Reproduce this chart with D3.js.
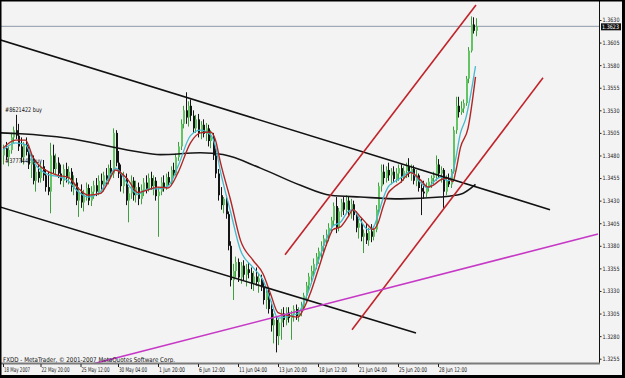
<!DOCTYPE html>
<html>
<head>
<meta charset="utf-8">
<script src="https://cdn.jsdelivr.net/npm/d3@7"></script>
<style>
  html, body { margin: 0; padding: 0; background: #f3f3f3; }
  svg { display: block; }
  text { font-family: "DejaVu Sans", Arial, sans-serif; }
  .narrow { font-family: "Liberation Sans Narrow", "DejaVu Sans Condensed", Arial, sans-serif; }
</style>
</head>
<body>
<svg id="chart" width="625" height="378"></svg>
<script>
// ── EURUSD H4 (FXDD MetaTrader) ─────────────────────────────────────────────
// one bar every 4 hours, 18 May 2007 .. 29 Jun 2007; prices

const opens = [
  1.3480,1.3488,1.3478,1.3486,1.3500,1.3508,1.3502,1.3490,1.3478,1.3492,
  1.3484,1.3470,1.3476,1.3452,1.3462,1.3455,1.3468,1.3458,1.3445,1.3440,
  1.3480,1.3465,1.3472,1.3460,1.3452,1.3465,1.3455,1.3462,1.3445,1.3450,
  1.3430,1.3440,1.3428,1.3436,1.3444,1.3430,1.3440,1.3447,1.3440,1.3452,
  1.3448,1.3458,1.3452,1.3466,1.3460,1.3505,1.3472,1.3460,1.3446,1.3455,
  1.3430,1.3438,1.3452,1.3436,1.3445,1.3432,1.3442,1.3450,1.3443,1.3455,
  1.3446,1.3452,1.3435,1.3440,1.3450,1.3445,1.3456,1.3450,1.3464,1.3460,
  1.3478,1.3490,1.3515,1.3530,1.3522,1.3535,1.3524,1.3510,1.3520,1.3505,
  1.3514,1.3504,1.3510,1.3496,1.3500,1.3480,1.3460,1.3436,1.3425,1.3432,
  1.3415,1.3380,1.3342,1.3352,1.3362,1.3345,1.3358,1.3348,1.3354,1.3350,
  1.3338,1.3346,1.3340,1.3344,1.3334,1.3320,1.3328,1.3310,1.3292,1.3298,
  1.3280,1.3295,1.3305,1.3298,1.3306,1.3300,1.3304,1.3310,1.3302,1.3308,
  1.3314,1.3325,1.3336,1.3346,1.3352,1.3360,1.3368,1.3374,1.3380,1.3388,
  1.3392,1.3400,1.3408,1.3424,1.3400,1.3418,1.3428,1.3420,1.3430,1.3418,
  1.3426,1.3414,1.3400,1.3405,1.3390,1.3394,1.3386,1.3396,1.3390,1.3398,
  1.3420,1.3446,1.3462,1.3455,1.3464,1.3458,1.3462,1.3454,1.3460,1.3466,
  1.3456,1.3463,1.3468,1.3460,1.3465,1.3452,1.3458,1.3444,1.3440,1.3438,
  1.3446,1.3451,1.3455,1.3458,1.3470,1.3460,1.3464,1.3440,1.3452,1.3448,
  1.3462,1.3508,1.3535,1.3528,1.3532,1.3538,1.3565,1.3596,1.3625,1.3618
];

const highs = [
  1.3492,1.3495,1.3490,1.3505,1.3512,1.3525,1.3515,1.3500,1.3495,1.3500,
  1.3490,1.3482,1.3480,1.3468,1.3470,1.3472,1.3475,1.3465,1.3462,1.3494,
  1.3492,1.3482,1.3478,1.3470,1.3470,1.3472,1.3468,1.3466,1.3458,1.3455,
  1.3445,1.3448,1.3442,1.3450,1.3448,1.3446,1.3452,1.3455,1.3458,1.3460,
  1.3462,1.3466,1.3470,1.3475,1.3510,1.3508,1.3485,1.3470,1.3462,1.3460,
  1.3445,1.3458,1.3456,1.3452,1.3450,1.3448,1.3455,1.3458,1.3460,1.3462,
  1.3458,1.3456,1.3445,1.3456,1.3458,1.3460,1.3462,1.3468,1.3472,1.3482,
  1.3495,1.3520,1.3535,1.3550,1.3540,1.3542,1.3530,1.3525,1.3526,1.3518,
  1.3520,1.3516,1.3514,1.3508,1.3505,1.3488,1.3465,1.3445,1.3434,1.3436,
  1.3418,1.3385,1.3360,1.3368,1.3366,1.3362,1.3364,1.3360,1.3362,1.3356,
  1.3352,1.3356,1.3350,1.3348,1.3342,1.3334,1.3332,1.3318,1.3305,1.3302,
  1.3300,1.3310,1.3312,1.3312,1.3312,1.3308,1.3314,1.3315,1.3312,1.3318,
  1.3328,1.3340,1.3350,1.3358,1.3366,1.3372,1.3378,1.3385,1.3392,1.3398,
  1.3405,1.3412,1.3428,1.3434,1.3422,1.3432,1.3434,1.3436,1.3434,1.3432,
  1.3430,1.3418,1.3410,1.3410,1.3398,1.3405,1.3400,1.3404,1.3402,1.3425,
  1.3450,1.3470,1.3470,1.3468,1.3472,1.3466,1.3468,1.3466,1.3470,1.3470,
  1.3468,1.3472,1.3477,1.3470,1.3469,1.3464,1.3460,1.3450,1.3452,1.3450,
  1.3455,1.3458,1.3462,1.3480,1.3476,1.3468,1.3466,1.3458,1.3460,1.3465,
  1.3512,1.3545,1.3545,1.3540,1.3542,1.3568,1.3600,1.3634,1.3633,1.3632
];

const lows = [
  1.3470,1.3475,1.3468,1.3482,1.3494,1.3498,1.3485,1.3472,1.3470,1.3480,
  1.3465,1.3455,1.3448,1.3440,1.3450,1.3450,1.3452,1.3440,1.3436,1.3416,
  1.3460,1.3458,1.3455,1.3448,1.3445,1.3450,1.3448,1.3440,1.3436,1.3425,
  1.3412,1.3422,1.3418,1.3430,1.3425,1.3424,1.3432,1.3435,1.3436,1.3442,
  1.3440,1.3448,1.3448,1.3455,1.3455,1.3468,1.3455,1.3440,1.3438,1.3425,
  1.3406,1.3432,1.3430,1.3428,1.3425,1.3426,1.3435,1.3438,1.3440,1.3442,
  1.3436,1.3430,1.3390,1.3436,1.3440,1.3442,1.3446,1.3448,1.3455,1.3458,
  1.3474,1.3486,1.3510,1.3515,1.3512,1.3518,1.3505,1.3505,1.3500,1.3498,
  1.3500,1.3496,1.3490,1.3488,1.3475,1.3455,1.3430,1.3420,1.3416,1.3410,
  1.3375,1.3335,1.3320,1.3345,1.3340,1.3338,1.3342,1.3335,1.3344,1.3332,
  1.3330,1.3336,1.3328,1.3330,1.3315,1.3310,1.3305,1.3285,1.3272,1.3262,
  1.3270,1.3276,1.3290,1.3292,1.3295,1.3276,1.3296,1.3298,1.3296,1.3302,
  1.3310,1.3318,1.3330,1.3338,1.3346,1.3354,1.3360,1.3366,1.3372,1.3380,
  1.3385,1.3394,1.3402,1.3394,1.3396,1.3412,1.3414,1.3415,1.3412,1.3410,
  1.3408,1.3395,1.3388,1.3385,1.3372,1.3382,1.3380,1.3384,1.3386,1.3395,
  1.3416,1.3440,1.3448,1.3450,1.3452,1.3448,1.3450,1.3450,1.3452,1.3450,
  1.3452,1.3455,1.3456,1.3452,1.3448,1.3446,1.3440,1.3414,1.3432,1.3434,
  1.3440,1.3444,1.3448,1.3452,1.3455,1.3450,1.3422,1.3436,1.3445,1.3444,
  1.3460,1.3504,1.3522,1.3525,1.3527,1.3535,1.3560,1.3594,1.3615,1.3612
];

const closes = [
  1.3488,1.3478,1.3486,1.3500,1.3508,1.3502,1.3490,1.3478,1.3492,1.3484,
  1.3470,1.3476,1.3452,1.3462,1.3455,1.3468,1.3458,1.3445,1.3440,1.3480,
  1.3465,1.3472,1.3460,1.3452,1.3465,1.3455,1.3462,1.3445,1.3450,1.3430,
  1.3440,1.3428,1.3436,1.3444,1.3430,1.3440,1.3447,1.3440,1.3452,1.3448,
  1.3458,1.3452,1.3466,1.3460,1.3505,1.3472,1.3460,1.3446,1.3455,1.3430,
  1.3438,1.3452,1.3436,1.3445,1.3432,1.3442,1.3450,1.3443,1.3455,1.3446,
  1.3452,1.3435,1.3440,1.3450,1.3445,1.3456,1.3450,1.3464,1.3460,1.3478,
  1.3490,1.3515,1.3530,1.3522,1.3535,1.3524,1.3510,1.3520,1.3505,1.3514,
  1.3504,1.3510,1.3496,1.3500,1.3480,1.3460,1.3436,1.3425,1.3432,1.3415,
  1.3380,1.3342,1.3352,1.3362,1.3345,1.3358,1.3348,1.3354,1.3350,1.3338,
  1.3346,1.3340,1.3344,1.3334,1.3320,1.3328,1.3310,1.3292,1.3298,1.3280,
  1.3295,1.3305,1.3298,1.3306,1.3300,1.3304,1.3310,1.3302,1.3308,1.3314,
  1.3325,1.3336,1.3346,1.3352,1.3360,1.3368,1.3374,1.3380,1.3388,1.3392,
  1.3400,1.3408,1.3424,1.3400,1.3418,1.3428,1.3420,1.3430,1.3418,1.3426,
  1.3414,1.3400,1.3405,1.3390,1.3394,1.3386,1.3396,1.3390,1.3398,1.3420,
  1.3446,1.3462,1.3455,1.3464,1.3458,1.3462,1.3454,1.3460,1.3466,1.3456,
  1.3463,1.3468,1.3460,1.3465,1.3452,1.3458,1.3444,1.3440,1.3438,1.3446,
  1.3451,1.3455,1.3458,1.3470,1.3460,1.3464,1.3440,1.3452,1.3448,1.3462,
  1.3508,1.3535,1.3528,1.3532,1.3538,1.3565,1.3596,1.3625,1.3618,1.3623
];

// ── Indicators, read as [bar, price] points ─────────────────────────────────
const maFast = [
  [0,1.3486],[5,1.3494],[9,1.3492],[12,1.3474],[19,1.3458],[22,1.3457],[26,1.3452],
  [30,1.3440],[34,1.3434],[39,1.3440],[42,1.3454],[45,1.3466],[50,1.3448],[54,1.3437],
  [58,1.3443],[62,1.3443],[66,1.3446],[70,1.3468],[75,1.3502],[79,1.3508],[83,1.3503],
  [85,1.3490],[87,1.3462],[91,1.3418],[95,1.3375],[100,1.3356],[104,1.3342],[107,1.3320],
  [110,1.3300],[114,1.3302],[118,1.3305],[120,1.3315],[123,1.3336],[126,1.3362],
  [130,1.3392],[132,1.3402],[135,1.3406],[138,1.3418],[140,1.3420],[143,1.3408],
  [146,1.3398],[148,1.3400],[150,1.3414],[152,1.3432],[154,1.3445],[156,1.3450],
  [159,1.3455],[163,1.3462],[167,1.3450],[170,1.3444],[172,1.3450],[175,1.3456],
  [178,1.3452],[180,1.3462],[181,1.3475],[183,1.3505],[185,1.3520],[189,1.3579]
];

const maSlow = [
  [0,1.3488],[5,1.3497],[9,1.3497],[12,1.3478],[19,1.3461],[22,1.3458],[26,1.3456],
  [30,1.3444],[34,1.3436],[39,1.3438],[42,1.3450],[45,1.3464],[50,1.3453],[54,1.3439],
  [58,1.3442],[62,1.3445],[66,1.3444],[70,1.3461],[75,1.3494],[79,1.3505],[83,1.3506],
  [85,1.3497],[87,1.3472],[91,1.3431],[95,1.3386],[100,1.3364],[104,1.3349],[107,1.3327],
  [110,1.3306],[114,1.3303],[118,1.3301],[120,1.3309],[123,1.3328],[126,1.3353],
  [130,1.3386],[132,1.3398],[135,1.3401],[138,1.3412],[140,1.3420],[143,1.3412],
  [146,1.3403],[148,1.3398],[150,1.3405],[152,1.3423],[154,1.3438],[156,1.3444],
  [159,1.3450],[163,1.3461],[167,1.3453],[170,1.3445],[172,1.3447],[175,1.3453],
  [178,1.3455],[180,1.3451],[181,1.3461],[183,1.3489],[186,1.3510],[189,1.3567]
];

const ma200 = [
  [-1,1.3505],[7,1.3504],[26,1.3499],[52,1.3485],[63,1.3481],[79,1.3483],[88,1.3481],
  [103,1.3466],[119,1.3447],[131,1.3436],[143,1.3434],[159,1.3432],[175,1.3434],
  [183,1.3437],[189,1.3448]
];

// ── Drawn objects: trend lines as [bar, price] end points ───────────────────
const channelTop    = [[-1.2, 1.3608], [218.8, 1.3420]];
const channelBottom = [[-1.2, 1.3423], [165.2, 1.32835]];
const riseTop       = [[112.8, 1.3370], [189.2, 1.36466]];
const riseBottom    = [[139.6, 1.3287], [216, 1.3566]];
const supportLine   = [[35.6, 1.3249], [238, 1.3393]];

const bidPrice = 1.3623;

const orderLabels = [
  { text: '#8621422 buy', price: 1.3530 },
  { text: '#3777442 buy', price: 1.3474 }
];

// ── Axes ticks ──────────────────────────────────────────────────────────────
const priceTicks = [1.3630, 1.3605, 1.3580, 1.3555, 1.3530, 1.3505, 1.3480, 1.3455,
                    1.3430, 1.3405, 1.3380, 1.3355, 1.3330, 1.3305, 1.3280, 1.3255];
const timeTickBars  = [0, 15, 31, 46, 62, 78, 94, 110, 126, 142, 158, 174];
const timeTickNames = ['18 May 2007', '22 May 20:00', '25 May 12:00', '30 May 04:00',
                       '1 Jun 20:00', '6 Jun 12:00', '11 Jun 04:00', '13 Jun 20:00',
                       '18 Jun 12:00', '21 Jun 04:00', '25 Jun 20:00', '28 Jun 12:00'];

// ── Layout ──────────────────────────────────────────────────────────────────
const W = 625, H = 378;
const plotRight = 599, plotBottom = 363;

const svg = d3.select('#chart');

const x = d3.scaleLinear().domain([0, 189]).range([3, 475.5]);
const y = d3.scaleLinear().domain([1.3255, 1.3630]).range([358.7, 20]);

const bars = opens.map((o, i) => ({ i, o, h: highs[i], l: lows[i], c: closes[i] }));

svg.append('rect').attr('width', W).attr('height', H).attr('fill', '#f3f3f3');

svg.append('defs').append('clipPath').attr('id', 'plot-clip')
  .append('rect').attr('x', 1).attr('y', 2).attr('width', plotRight - 1).attr('height', plotBottom - 2);

const plot = svg.append('g').attr('clip-path', 'url(#plot-clip)');

// bid line
plot.append('line')
  .attr('x1', 0).attr('x2', plotRight)
  .attr('y1', y(bidPrice)).attr('y2', y(bidPrice))
  .attr('stroke', '#8c9aa6').attr('stroke-width', 1);

// ── Candles ─────────────────────────────────────────────────────────────────
const candle = plot.append('g').attr('class', 'candles')
  .selectAll('g').data(bars).join('g');

candle.append('line')
  .attr('x1', d => Math.round(x(d.i)) + 0.5)
  .attr('x2', d => Math.round(x(d.i)) + 0.5)
  .attr('y1', d => y(d.h))
  .attr('y2', d => y(d.l))
  .attr('stroke', d => d.c >= d.o ? '#3d9f3d' : '#151515')
  .attr('stroke-width', 1);

candle.append('rect')
  .attr('x', d => Math.round(x(d.i)))
  .attr('width', 2)
  .attr('y', d => y(Math.max(d.o, d.c)))
  .attr('height', d => Math.max(1, Math.abs(y(d.o) - y(d.c))))
  .attr('fill', d => d.c >= d.o ? '#62c462' : '#151515');

// ── Moving averages ─────────────────────────────────────────────────────────
const maLine = d3.line().x(d => x(d[0])).y(d => y(d[1])).curve(d3.curveMonotoneX);

plot.append('path').attr('d', maLine(ma200))
  .attr('fill', 'none').attr('stroke', '#161616').attr('stroke-width', 1.6);
plot.append('path').attr('d', maLine(maFast))
  .attr('fill', 'none').attr('stroke', '#46b9cc').attr('stroke-width', 1.3);
plot.append('path').attr('d', maLine(maSlow))
  .attr('fill', 'none').attr('stroke', '#b02525').attr('stroke-width', 1.4);

// ── Trend lines ─────────────────────────────────────────────────────────────
const segment = d3.line().x(d => x(d[0])).y(d => y(d[1]));

[[channelTop, '#111'], [channelBottom, '#111'],
 [riseTop, '#c0232a'], [riseBottom, '#c0232a'],
 [supportLine, '#c639c6']].forEach(([pts, color]) => {
  plot.append('path').attr('d', segment(pts))
    .attr('fill', 'none').attr('stroke', color).attr('stroke-width', 1.6);
});

// order labels
plot.selectAll('.order').data(orderLabels).join('text')
  .attr('class', 'order')
  .attr('x', 5).attr('y', d => y(d.price) + 2)
  .attr('font-size', 6.5).attr('fill', '#111')
  .attr('textLength', 37).attr('lengthAdjust', 'spacingAndGlyphs')
  .text(d => d.text);

// copyright
svg.append('text')
  .attr('x', 3).attr('y', 361.5)
  .attr('font-size', 6.5).attr('fill', '#111')
  .attr('textLength', 172).attr('lengthAdjust', 'spacingAndGlyphs')
  .text('FXDD - MetaTrader, © 2001-2007 MetaQuotes Software Corp.');

// ── Frame ───────────────────────────────────────────────────────────────────
svg.append('line')
  .attr('x1', plotRight + 0.5).attr('x2', plotRight + 0.5)
  .attr('y1', 0).attr('y2', plotBottom + 1)
  .attr('stroke', '#111').attr('stroke-width', 1);
svg.append('line')
  .attr('x1', 0).attr('x2', plotRight + 1)
  .attr('y1', plotBottom + 0.5).attr('y2', plotBottom + 0.5)
  .attr('stroke', '#7a7a7a').attr('stroke-width', 2);

// ── Price axis (right) ──────────────────────────────────────────────────────
const yAxis = svg.append('g')
  .attr('transform', `translate(${plotRight + 0.5},0)`)
  .call(d3.axisRight(y).tickValues(priceTicks).tickSize(2).tickPadding(1)
    .tickFormat(d3.format('.4f')));
yAxis.select('.domain').remove();
yAxis.selectAll('line').attr('stroke', '#222');
yAxis.selectAll('text')
  .attr('font-size', 6).attr('fill', '#222').attr('font-family', null)
  .attr('textLength', 17).attr('lengthAdjust', 'spacingAndGlyphs');

// bid marker
svg.append('rect')
  .attr('x', plotRight + 2).attr('y', y(bidPrice) - 3)
  .attr('width', 20).attr('height', 7).attr('fill', '#111');
svg.append('text')
  .attr('x', plotRight + 3).attr('y', y(bidPrice) + 2.5)
  .attr('font-size', 6).attr('fill', '#fff')
  .attr('textLength', 17).attr('lengthAdjust', 'spacingAndGlyphs')
  .text(d3.format('.4f')(bidPrice));

// ── Time axis (bottom) ──────────────────────────────────────────────────────
const xAxis = svg.append('g')
  .attr('transform', `translate(0,${plotBottom + 1})`)
  .call(d3.axisBottom(x).tickValues(timeTickBars).tickSize(3)
    .tickFormat((d, k) => timeTickNames[k]));
xAxis.select('.domain').remove();
xAxis.selectAll('line').attr('stroke', '#222');
xAxis.selectAll('text')
  .attr('class', 'narrow')
  .attr('text-anchor', 'start').attr('x', 0.5).attr('y', 3).attr('dy', '0.71em')
  .attr('font-size', 6.5).attr('fill', '#222').attr('font-family', null)
  .attr('textLength', (d, k) => timeTickNames[k].length > 11 ? 28 : 26)
  .attr('lengthAdjust', 'spacingAndGlyphs');

// ── Outer border ────────────────────────────────────────────────────────────
svg.append('rect').attr('x', 0).attr('y', 0).attr('width', W).attr('height', 1.5).attr('fill', '#000');
svg.append('rect').attr('x', 0).attr('y', 0).attr('width', 1.5).attr('height', H).attr('fill', '#000');
svg.append('rect').attr('x', W - 3).attr('y', 0).attr('width', 3).attr('height', H).attr('fill', '#000');
svg.append('rect').attr('x', 0).attr('y', H - 3).attr('width', W).attr('height', 3).attr('fill', '#000');
</script>
</body>
</html>
